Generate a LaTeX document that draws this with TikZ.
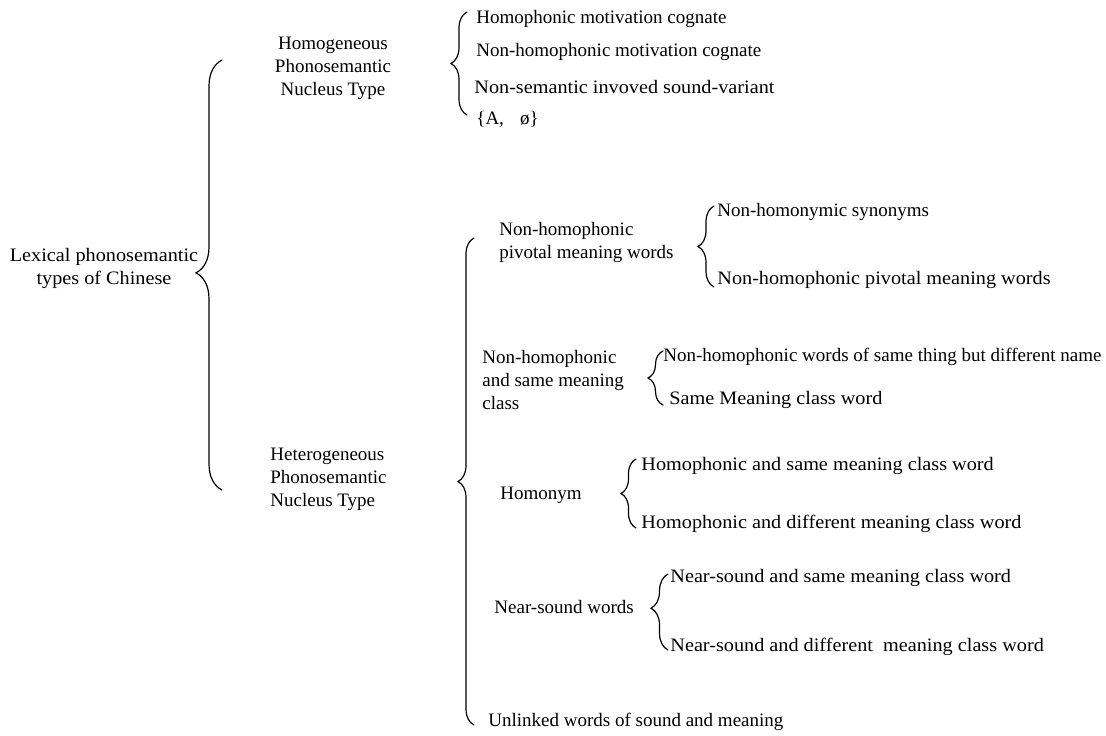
\documentclass[tikz,border=0pt]{standalone}
\usepackage{fontspec}
\setmainfont{Liberation Serif}
\newfontfamily\widefont[FakeStretch=1.065]{Liberation Serif}
\usetikzlibrary{decorations.pathreplacing}
\begin{document}
\begin{tikzpicture}[x=0.5pt,y=-0.5pt,
  lbl/.style={inner sep=0pt, anchor=west, yshift=-1pt, font=\fontsize{9.5}{11.5}\selectfont, text height=6.6pt, text depth=2.2pt},
  wlbl/.style={lbl, font=\widefont\fontsize{9.5}{11.5}\selectfont},
  blk/.style={inner sep=0pt, yshift=-1pt, font=\fontsize{9.5}{11.5}\selectfont},
  brc/.style 2 args={decorate, decoration={brace, amplitude=#1, aspect=#2}, line width=0.6pt, line cap=round}]
\useasboundingbox (0,0) rectangle (1106,735);

% root and first level
\node[blk, align=center, font=\widefont\fontsize{9.5}{11.5}\selectfont] (root) at (104,266) {Lexical phonosemantic\\types of Chinese};
\node[blk, align=center] (homo) at (333,66) {Homogeneous\\Phonosemantic\\Nucleus Type};
\node[blk, align=left, anchor=west] (hetero) at (270,477) {Heterogeneous\\Phonosemantic\\Nucleus Type};

% homogeneous children
\node[lbl] (h1) at (476,17) {Homophonic motivation cognate};
\node[lbl] (h2) at (476,50) {Non-homophonic motivation cognate};
\node[wlbl] (h3) at (474,87) {Non-semantic invoved sound-variant};
\node[lbl] (h4) at (476,118) {\{A,\hspace{0.85em}ø\}};

% heterogeneous children
\node[blk, align=left, anchor=west] (piv) at (499,240) {Non-homophonic\\pivotal meaning words};
\node[lbl] (piv1) at (717,210) {Non-homonymic synonyms};
\node[wlbl] (piv2) at (717,278) {Non-homophonic pivotal meaning words};

\node[blk, align=left, anchor=west] (smc) at (482,378) {Non-homophonic\\and same meaning\\class};
\node[lbl] (smc1) at (663,355) {Non-homophonic words of same thing but different name};
\node[wlbl] (smc2) at (669,398) {Same Meaning class word};

\node[lbl] (hom) at (500,493) {Homonym};
\node[wlbl] (hom1) at (641,464) {Homophonic and same meaning class word};
\node[wlbl] (hom2) at (641,522) {Homophonic and different meaning class word};

\node[lbl] (near) at (494,607) {Near-sound words};
\node[wlbl] (near1) at (670,576) {Near-sound and same meaning class word};
\node[wlbl] (near2) at (670,645) {Near-sound and different\ \ meaning class word};

\node[lbl] (unl) at (488,720) {Unlinked words of sound and meaning};

% brace end points
\coordinate (b0s) at (222,490); \coordinate (b0e) at (222,60);
\coordinate (b1s) at (467,115); \coordinate (b1e) at (467,12);
\coordinate (b2s) at (474,725); \coordinate (b2e) at (474,238);
\coordinate (b3s) at (714,287); \coordinate (b3e) at (714,206);
\coordinate (b4s) at (663,405); \coordinate (b4e) at (663,351);
\coordinate (b5s) at (636,528); \coordinate (b5e) at (636,459);
\coordinate (b6s) at (668,650); \coordinate (b6e) at (668,574);

\draw[brc={13pt}{0.505}] (b0s) -- (b0e);
\draw[brc={8pt}{0.5}] (b1s) -- (b1e);
\draw[brc={8pt}{0.5}] (b2s) -- (b2e);
\draw[brc={8pt}{0.5}] (b3s) -- (b3e);
\draw[brc={7.5pt}{0.5}] (b4s) -- (b4e);
\draw[brc={7.5pt}{0.5}] (b5s) -- (b5e);
\draw[brc={8.5pt}{0.55}] (b6s) -- (b6e);
\end{tikzpicture}
\end{document}
